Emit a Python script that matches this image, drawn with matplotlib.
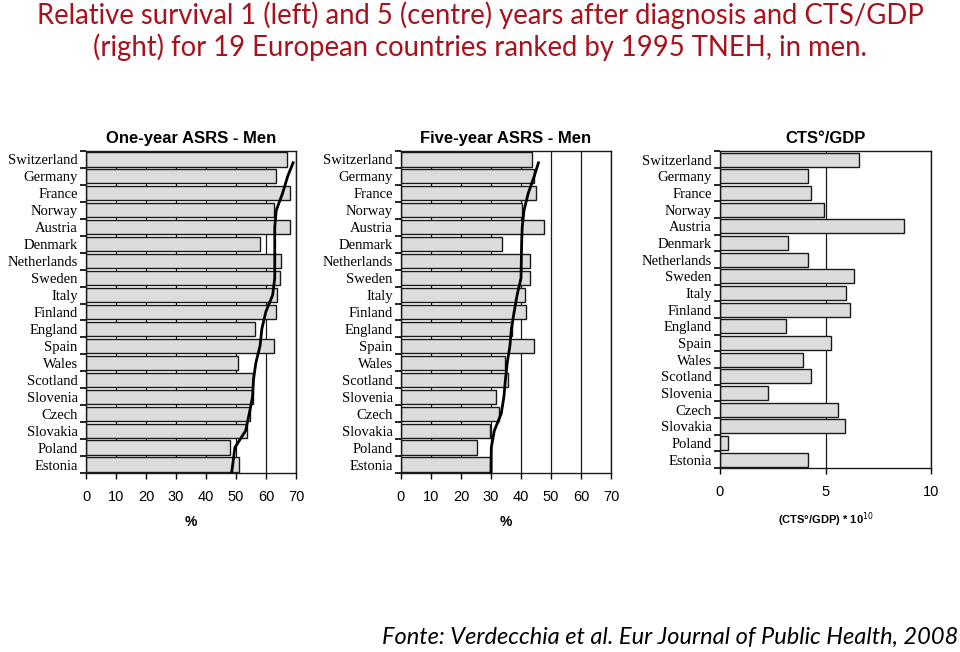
import numpy as np
import matplotlib
matplotlib.use('Agg')
import matplotlib.pyplot as plt

countries = ['Switzerland', 'Germany', 'France', 'Norway', 'Austria', 'Denmark',
             'Netherlands', 'Sweden', 'Italy', 'Finland', 'England', 'Spain',
             'Wales', 'Scotland', 'Slovenia', 'Czech', 'Slovakia', 'Poland', 'Estonia']

one_year = [67.0, 63.4, 67.9, 62.5, 68.1, 58.0, 65.1, 64.7, 63.7, 63.4,
            56.3, 62.5, 50.6, 55.8, 55.5, 54.5, 53.6, 48.0, 50.9]
five_year = [43.7, 44.3, 44.9, 40.4, 47.8, 33.7, 42.9, 42.9, 41.2, 41.6,
             37.1, 44.2, 34.8, 35.7, 31.5, 32.5, 29.7, 25.2, 30.0]
cts_gdp = [6.58, 4.19, 4.30, 4.91, 8.73, 3.24, 4.19, 6.36, 5.98, 6.16,
           3.12, 5.28, 3.91, 4.30, 2.29, 5.60, 5.93, 0.38, 4.19]

# trend curves: value at top edge, at each country, at bottom edge
one_year_curve = [69.0, 67.2, 65.5, 63.4, 62.9, 62.9, 62.9, 62.9, 62.2, 59.9,
                  58.6, 58.0, 56.6, 55.8, 55.5, 54.4, 53.2, 49.6, 48.9, 48.5]
five_year_curve = [45.8, 44.4, 42.4, 41.0, 40.4, 40.2, 40.1, 40.0, 38.7, 37.7,
                   36.8, 36.3, 35.4, 34.8, 34.3, 33.4, 31.1, 30.1, 30.0, 30.0]

BAR_FACE = '#dcdcdc'
EDGE = '#1a1a1a'
SERIF = ['Liberation Serif', 'DejaVu Serif']
SANS = ['Liberation Sans', 'DejaVu Sans']


def draw_panel(ax, values, title, xmax, xstep, xlabel, curve=None, xlabel_size=10):
    n = len(countries)
    ypos = np.arange(n)
    ax.set_axisbelow(True)
    ax.barh(ypos, values, height=0.84, color=BAR_FACE, edgecolor=EDGE, linewidth=1.0, zorder=2)
    if curve is not None:
        cy = np.concatenate([[0.2], ypos[1:], [n - 0.5]])
        ax.plot(curve, cy, color='black', linewidth=2.0, zorder=3)
    ax.set_xlim(0, xmax)
    ax.set_ylim(n - 0.5, -0.5)
    ax.set_xticks(np.arange(0, xmax + 0.01, xstep))
    ax.grid(axis='x', color=EDGE, linewidth=0.9)
    ax.set_yticks(ypos)
    ax.set_yticklabels(countries, family=SERIF, fontsize=10.5)
    ax.tick_params(axis='y', which='major', length=0, pad=6)
    ax.set_yticks(np.arange(-0.5, n, 1.0), minor=True)
    ax.tick_params(axis='y', which='minor', length=4, width=1.2, direction='out')
    ax.tick_params(axis='x', length=4, width=1.0, direction='out', labelsize=10.5, pad=8)
    for lab in ax.get_xticklabels():
        lab.set_family(SANS)
    for sp in ax.spines.values():
        sp.set_color(EDGE)
        sp.set_linewidth(1.0)
    ax.set_title(title, family=SANS, fontweight='bold', fontsize=12, pad=6)
    ax.set_xlabel(xlabel, family=SANS, fontweight='bold', fontsize=xlabel_size, labelpad=8)


fig = plt.figure(figsize=(9.6, 6.52), dpi=100)
fig.patch.set_facecolor('white')

ax1 = fig.add_axes([0.0896, 0.2745, 0.2188, 0.494])
ax2 = fig.add_axes([0.4177, 0.2745, 0.2188, 0.494])
ax3 = fig.add_axes([0.75, 0.282, 0.2198, 0.486])

draw_panel(ax1, one_year, 'One-year ASRS - Men', 70, 10, '%', curve=one_year_curve)
draw_panel(ax2, five_year, 'Five-year ASRS - Men', 70, 10, '%', curve=five_year_curve)
draw_panel(ax3, cts_gdp, 'CTS°/GDP', 10, 5, '(CTS°/GDP) * 10$^{10}$', xlabel_size=8)

title_font = ['Lato', 'DejaVu Sans']
fig.text(0.5, 1 - 15 / 652, 'Relative survival 1 (left) and 5 (centre) years after diagnosis and CTS/GDP',
         ha='center', va='center', color='#a8121c', fontsize=19.8, family=title_font)
fig.text(0.5, 1 - 47 / 652, '(right) for 19 European countries ranked by 1995 TNEH, in men.',
         ha='center', va='center', color='#a8121c', fontsize=19.8, family=title_font)

fig.text(958 / 960, 1 - 637 / 652, 'Fonte: Verdecchia et al. Eur Journal of Public Health, 2008',
         ha='right', va='center', color='black', fontsize=17, style='italic', family=title_font)

fig.savefig('out.png', dpi=100)
